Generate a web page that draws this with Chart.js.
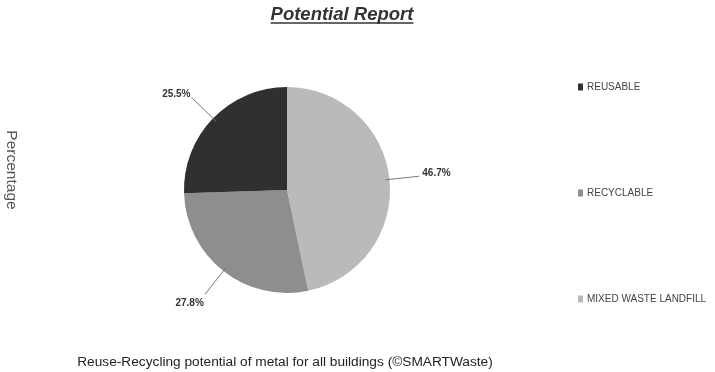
<!DOCTYPE html>
<html>
<head>
<meta charset="utf-8">
<title>Potential Report</title>
<script src="https://cdn.jsdelivr.net/npm/chart.js@4.4.0/dist/chart.umd.min.js"></script>
<style>
  html, body { margin: 0; padding: 0; background: #fff; }
  #wrap { position: relative; width: 715px; height: 372px; }
</style>
</head>
<body>
<div id="wrap"><canvas id="potentialChart" width="715" height="372"></canvas></div>
<script>
// Legend order (top to bottom)
const categories = ['REUSABLE', 'RECYCLABLE', 'MIXED WASTE LANDFILL'];
const shares = [25.5, 27.8, 46.7];
const shades = ['#303030', '#8e8e8e', '#bababa'];

const chartTitle = 'Potential Report';
const axisTitle = 'Percentage';
const caption = 'Reuse-Recycling potential of metal for all buildings (\u00A9SMARTWaste)';

const FONT = 'Arial, "Liberation Sans", sans-serif';

// slices run clockwise from 12 o'clock in the reverse of the legend order
const pieLabels = categories.slice().reverse();
const pieData = shares.slice().reverse();
const pieColors = shades.slice().reverse();

// Percentage labels outside the pie with a short leader line
const sliceLabels = {
    id: 'sliceLabels',
    afterDatasetsDraw(chart) {
        const ctx = chart.ctx;
        const meta = chart.getDatasetMeta(0);
        const values = chart.data.datasets[0].data;
        ctx.save();
        ctx.font = 'bold 10px ' + FONT;
        ctx.fillStyle = '#333';
        ctx.strokeStyle = '#777';
        ctx.lineWidth = 1;
        meta.data.forEach((arc, i) => {
            const p = arc.getProps(['x', 'y', 'startAngle', 'endAngle', 'outerRadius'], true);
            const mid = (p.startAngle + p.endAngle) / 2;
            const cos = Math.cos(mid), sin = Math.sin(mid);
            const x0 = p.x + cos * (p.outerRadius - 4), y0 = p.y + sin * (p.outerRadius - 4);
            const x1 = p.x + cos * (p.outerRadius + 30), y1 = p.y + sin * (p.outerRadius + 30);
            ctx.beginPath();
            ctx.moveTo(x0, y0);
            ctx.lineTo(x1, y1);
            ctx.stroke();
            const text = values[i].toFixed(1) + '%';
            ctx.textBaseline = 'alphabetic';
            ctx.textAlign = cos < 0 ? 'right' : 'left';
            const tx = cos < 0 ? x1 - 1 : x1 + 3;
            const ty = sin > 0.3 ? y1 + 11 : y1;
            ctx.fillText(text, tx, ty);
        });
        ctx.restore();
    }
};

// Title, axis caption, bottom note and legend
const chartText = {
    id: 'chartText',
    afterDraw(chart) {
        const ctx = chart.ctx;
        ctx.save();

        ctx.fillStyle = '#333';
        ctx.font = 'italic bold 18.5px ' + FONT;
        ctx.textAlign = 'center';
        ctx.textBaseline = 'alphabetic';
        ctx.fillText(chartTitle, 342, 20);
        const w = ctx.measureText(chartTitle).width;
        ctx.strokeStyle = '#333';
        ctx.lineWidth = 1.5;
        ctx.beginPath();
        ctx.moveTo(342 - w / 2, 23);
        ctx.lineTo(342 + w / 2, 23);
        ctx.stroke();

        ctx.save();
        ctx.translate(11.5, 170);
        ctx.rotate(Math.PI / 2);
        ctx.font = '15.5px ' + FONT;
        ctx.fillStyle = '#555';
        ctx.textAlign = 'center';
        ctx.textBaseline = 'middle';
        ctx.fillText(axisTitle, 0, 0);
        ctx.restore();

        ctx.font = '13.7px ' + FONT;
        ctx.fillStyle = '#222';
        ctx.textAlign = 'center';
        ctx.textBaseline = 'alphabetic';
        ctx.fillText(caption, 285, 365.5);

        ctx.font = '10px ' + FONT;
        ctx.textAlign = 'left';
        ctx.textBaseline = 'middle';
        categories.forEach((name, i) => {
            const y = 87 + i * 106;
            ctx.fillStyle = shades[i];
            ctx.fillRect(578, y - 3.5, 5, 7);
            ctx.fillStyle = '#444';
            ctx.fillText(name, 587, y);
        });

        ctx.restore();
    }
};

new Chart(document.getElementById('potentialChart'), {
    type: 'pie',
    data: {
        labels: pieLabels,
        datasets: [{
            data: pieData,
            backgroundColor: pieColors,
            borderWidth: 0,
            hoverOffset: 0
        }]
    },
    options: {
        responsive: false,
        animation: false,
        radius: 103,
        layout: { padding: { top: 87, bottom: 79, left: 0, right: 141 } },
        plugins: {
            legend: { display: false },
            title: { display: false },
            tooltip: { enabled: false }
        }
    },
    plugins: [sliceLabels, chartText]
});
</script>
</body>
</html>
